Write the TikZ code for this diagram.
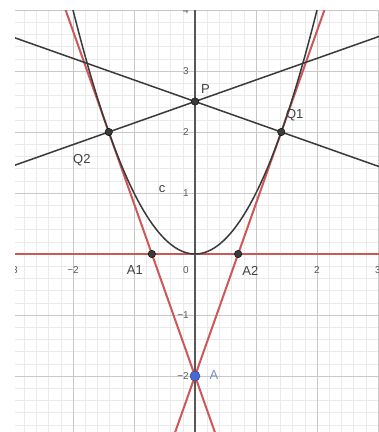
\documentclass[tikz,border=0pt]{standalone}
\usepackage{fontspec}
\setmainfont{Liberation Sans}
\usetikzlibrary{calc}

\definecolor{lineRed}{RGB}{206,88,88}
\definecolor{darkLine}{RGB}{58,58,58}
\definecolor{gridMajor}{RGB}{200,200,200}
\definecolor{gridMinor}{RGB}{234,234,234}
\definecolor{ptBlue}{RGB}{72,104,214}
\definecolor{labelBlue}{RGB}{128,140,196}

\begin{document}
\begin{tikzpicture}[
        x=61pt, y=61pt,
        redline/.style={lineRed, line width=2pt},
        darkline/.style={darkLine, line width=1.5pt},
        dot/.style={circle, draw=black, fill=darkLine, inner sep=0pt, minimum size=7.5pt},
        bluedot/.style={circle, draw=ptBlue!60!black, fill=ptBlue, inner sep=0pt, minimum size=10pt},
        ptlabel/.style={font=\fontsize{13pt}{15pt}\selectfont, text=black!75, inner sep=0pt},
        ticklabel/.style={font=\fontsize{10pt}{12pt}\selectfont, text=black!65, inner sep=0pt}
    ]

    \useasboundingbox (-3.197,-2.918) rectangle (3.016,4.164);
    \fill[white] (-3.197,-2.918) rectangle (3.016,4.164);
    \clip (-2.95,-2.918) rectangle (3.016,4.0);

    % Grid
    \draw[gridMinor, line width=0.4pt, step=0.2] (-3.2,-3.2) grid (3.2,4.2);
    \draw[gridMajor, line width=0.7pt, step=1] (-3.2,-3.2) grid (3.2,4.2);

    % Axes
    \coordinate (xl) at (-3.2,0);
    \coordinate (xr) at (3.2,0);
    \coordinate (yb) at (0,-3.2);
    \coordinate (yt) at (0,4.2);
    \draw[darkLine!85, line width=1.1pt] (yb) -- (yt);

    % Tick labels
    \foreach \x/\t in {-3/−3, -2/−2, 2/2, 3/3}
        \node[ticklabel] (tx\x) at (\x,-0.26) {\t};
    \foreach \y/\t in {4/4, 3/3, 2/2, 1/1, -1/−1, -2/−2}
        \node[ticklabel, anchor=east] (ty\y) at (-0.1,\y) {\t};
    \node[ticklabel, anchor=east] (t0) at (-0.1,-0.26) {0};

    % Points
    \coordinate (P) at (0,2.5);
    \coordinate (Q1) at ({sqrt(2)},2);
    \coordinate (Q2) at ({-sqrt(2)},2);
    \coordinate (A1) at ({-1/sqrt(2)},0);
    \coordinate (A2) at ({1/sqrt(2)},0);
    \coordinate (A) at (0,-2);

    % Tangents
    \draw[redline] (xl) -- (xr);
    \draw[redline] ($(A)!-0.5!(Q1)$) -- ($(A)!1.6!(Q1)$);
    \draw[redline] ($(A)!-0.5!(Q2)$) -- ($(A)!1.6!(Q2)$);

    % Normals through P
    \draw[darkline] ($(P)!-2.5!(Q1)$) -- ($(P)!2.5!(Q1)$);
    \draw[darkline] ($(P)!-2.5!(Q2)$) -- ($(P)!2.5!(Q2)$);

    % Parabola c
    \draw[darkline] plot[domain=-2.15:2.15, samples=90] (\x, {\x*\x});
    \node[ptlabel] (lc) at (-0.54,1.07) {c};

    % Dots and labels
    \node[dot] (dP) at (P) {};
    \node[dot] (dQ1) at (Q1) {};
    \node[dot] (dQ2) at (Q2) {};
    \node[dot] (dA1) at (A1) {};
    \node[dot] (dA2) at (A2) {};
    \node[bluedot] (dA) at (A) {};

    \node[ptlabel] (lP) at ($(P)+(0.17,0.2)$) {P};
    \node[ptlabel] (lQ1) at ($(Q1)+(0.22,0.28)$) {Q1};
    \node[ptlabel] (lQ2) at ($(Q2)+(-0.44,-0.46)$) {Q2};
    \node[ptlabel] (lA1) at ($(A1)+(-0.28,-0.27)$) {A1};
    \node[ptlabel] (lA2) at ($(A2)+(0.2,-0.27)$) {A2};
    \node[ptlabel, text=labelBlue] (lA) at ($(A)+(0.31,0.01)$) {A};

\end{tikzpicture}
\end{document}
